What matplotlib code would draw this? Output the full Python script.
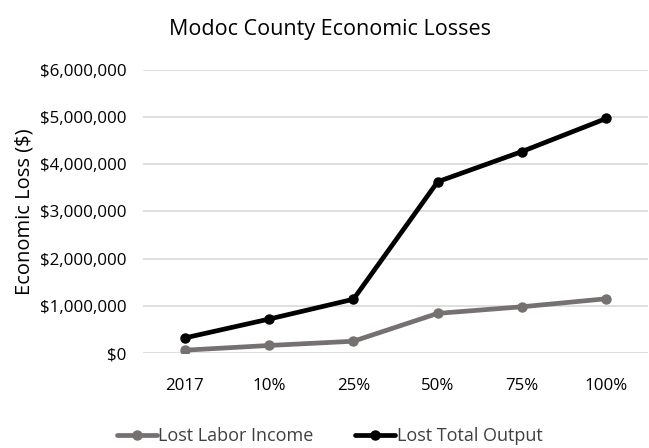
import matplotlib
matplotlib.use("Agg")
import matplotlib.pyplot as plt
from matplotlib.ticker import FuncFormatter

categories = ["2017", "10%", "25%", "50%", "75%", "100%"]
labor_income = [60000, 160000, 250000, 840000, 980000, 1150000]
total_output = [320000, 720000, 1140000, 3630000, 4270000, 4970000]
series_names = ["Lost Labor Income", "Lost Total Output"]

plt.rcParams['font.family'] = ['Open Sans', 'DejaVu Sans']

fig = plt.figure(figsize=(6.49, 4.48), dpi=100)
ax = fig.add_axes([0.220, 0.212, 0.779, 0.632])

x = list(range(len(categories)))
ax.plot(x, labor_income, color="#767171", lw=3.4, marker="o", markersize=6.5,
        label=series_names[0], solid_capstyle="round", zorder=3)
ax.plot(x, total_output, color="#000000", lw=3.4, marker="o", markersize=6.5,
        label=series_names[1], solid_capstyle="round", zorder=4)

ax.set_xlim(-0.5, len(categories) - 0.5)
ax.set_ylim(0, 6000000)
ax.set_yticks(range(0, 6000001, 1000000))
ax.yaxis.set_major_formatter(FuncFormatter(lambda v, p: "${:,.0f}".format(v)))
ax.set_xticks(x)
ax.set_xticklabels(categories)
ax.grid(axis="y", color="#d9d9d9", lw=1.2)
ax.set_axisbelow(True)
for s in ax.spines.values():
    s.set_visible(False)
ax.tick_params(length=0, labelsize=12.2, colors="#000000", pad=11.5)
ax.tick_params(axis="x", pad=18)
ax.set_ylabel("Economic Loss ($)", fontsize=14.5, labelpad=4)

fig.suptitle("Modoc County Economic Losses", fontsize=15.5, x=0.508, y=0.958)

fig.legend(loc="lower center", ncol=2, frameon=False, fontsize=13,
           bbox_to_anchor=(0.508, -0.03), handlelength=2.2, handletextpad=0.1,
           columnspacing=2.3, labelcolor="#404040")

fig.savefig("out.png", dpi=100)
